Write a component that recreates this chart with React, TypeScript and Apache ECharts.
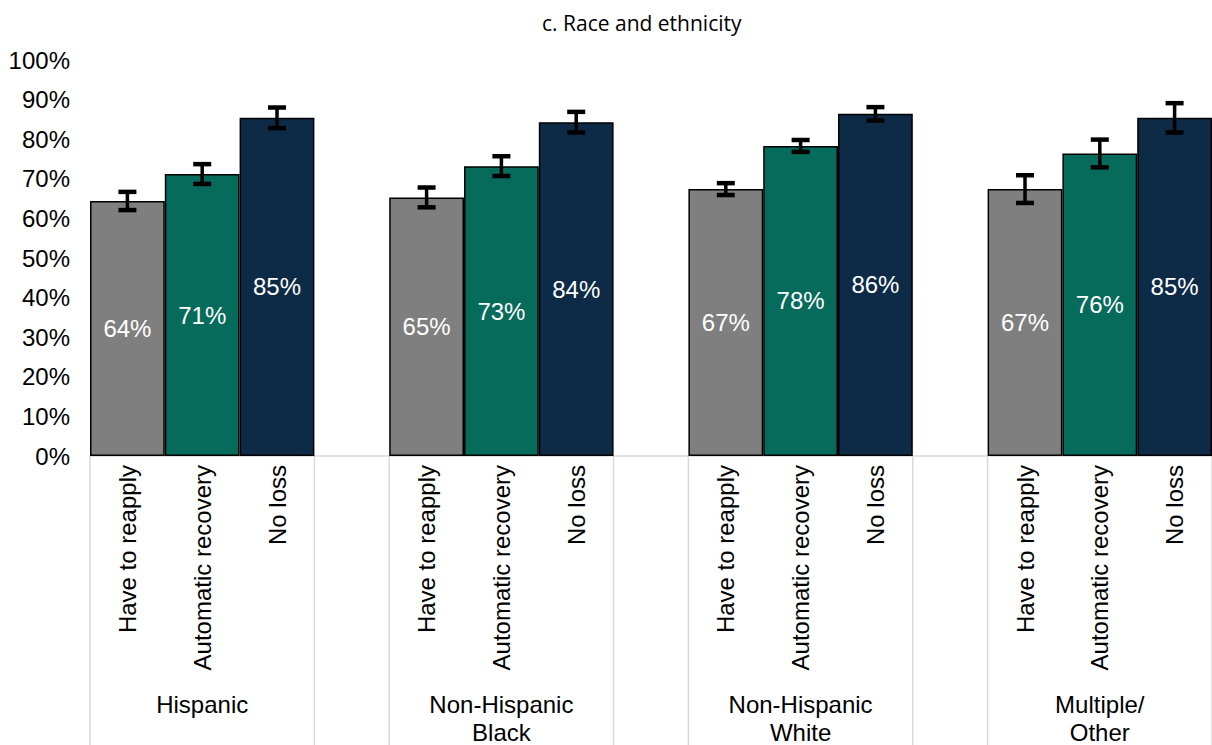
import React, { useEffect, useRef } from "react";
import * as echarts from "echarts";

// Groups along the x axis and the three outcomes shown in each group
const groups = ["Hispanic", "Non-Hispanic\nBlack", "Non-Hispanic\nWhite", "Multiple/\nOther"];
const outcomes = ["Have to reapply", "Automatic recovery", "No loss"];

// Share of respondents (%) per outcome, one value per group
const haveToReapply = [64.4, 65.3, 67.4, 67.4];
const automaticRecovery = [71.2, 73.2, 78.3, 76.4];
const noLoss = [85.4, 84.3, 86.4, 85.4];

// Half-width of the confidence interval (percentage points)
const haveToReapplyMoe = [2.3, 2.5, 1.5, 3.5];
const automaticRecoveryMoe = [2.5, 2.5, 1.5, 3.5];
const noLossMoe = [2.6, 2.6, 1.7, 3.7];

const outcomeColors = ["#7f7f7f", "#066b5a", "#0d2a47"];

const FONT = '"Liberation Sans", Arial, sans-serif';

type Slot = { label: string; value: number | null; moe: number; color: string; group: number };

function buildSlots(): Slot[] {
  const values = [haveToReapply, automaticRecovery, noLoss];
  const moes = [haveToReapplyMoe, automaticRecoveryMoe, noLossMoe];
  const slots: Slot[] = [];
  groups.forEach((_, g) => {
    outcomes.forEach((name, o) => {
      slots.push({ label: name, value: values[o][g], moe: moes[o][g], color: outcomeColors[o], group: g });
    });
    if (g < groups.length - 1) slots.push({ label: "", value: null, moe: 0, color: "transparent", group: g });
  });
  return slots;
}

export default function App() {
  const ref = useRef<HTMLDivElement>(null);

  useEffect(() => {
    if (!ref.current) return;
    const chart = echarts.init(ref.current, undefined, { renderer: "svg" });
    const slots = buildSlots();

    const barData = slots.map((s) =>
      s.value === null
        ? "-"
        : { value: s.value, itemStyle: { color: s.color } }
    );

    const errorData = slots
      .map((s, i) => (s.value === null ? null : [i, s.value - s.moe, s.value + s.moe]))
      .filter((d) => d !== null);

    // [first slot, last slot, group index]
    const groupData = groups.map((_, g) => [g * 4, g * 4 + 2, g]);

    chart.setOption({
      animation: false,
      title: {
        text: "c. Race and ethnicity",
        left: 537,
        top: 7,
        textStyle: { fontFamily: '"Open Sans", sans-serif', fontSize: 21, fontWeight: "normal", color: "#000" },
      },
      grid: { left: 90, right: 0, top: 60, bottom: 289 },
      xAxis: {
        type: "category",
        data: slots.map((s) => s.label),
        axisTick: { show: false },
        axisLine: { lineStyle: { color: "#d9d9d9", width: 1.5 } },
        axisLabel: { interval: 0, rotate: 90, margin: 9, fontSize: 24, fontFamily: FONT, color: "#000" },
      },
      yAxis: {
        type: "value",
        min: 0,
        max: 100,
        interval: 10,
        splitLine: { show: false },
        axisLine: { show: false },
        axisTick: { show: false },
        axisLabel: { formatter: "{value}%", margin: 20, fontSize: 24, fontFamily: FONT, color: "#000" },
      },
      series: [
        {
          type: "bar",
          data: barData,
          barWidth: "100%",
          itemStyle: { borderColor: "#000", borderWidth: 1.5 },
          label: {
            show: true,
            position: "inside",
            formatter: (p: any) => `${Math.round(p.value)}%`,
            color: "#fff",
            fontSize: 24,
            fontFamily: FONT,
          },
          z: 2,
        },
        {
          type: "custom",
          data: errorData,
          z: 3,
          renderItem: (params: any, api: any) => {
            const x = api.value(0);
            const top = api.coord([x, api.value(2)]);
            const bottom = api.coord([x, api.value(1)]);
            const half = 9;
            const style = { stroke: "#000", lineWidth: 4.5 };
            return {
              type: "group",
              children: [
                { type: "line", shape: { x1: top[0], y1: top[1], x2: bottom[0], y2: bottom[1] }, style: { stroke: "#000", lineWidth: 3.5 } },
                { type: "line", shape: { x1: top[0] - half, y1: top[1], x2: top[0] + half, y2: top[1] }, style },
                { type: "line", shape: { x1: bottom[0] - half, y1: bottom[1], x2: bottom[0] + half, y2: bottom[1] }, style },
              ],
            };
          },
        },
        {
          type: "custom",
          data: groupData,
          clip: false,
          silent: true,
          z: 1,
          renderItem: (params: any, api: any) => {
            const start = api.coord([api.value(0), 0]);
            const end = api.coord([api.value(1), 0]);
            const band = api.size([1, 0])[0];
            const x0 = start[0] - band / 2;
            const x1 = end[0] + band / 2;
            const y0 = start[1];
            const yEnd = api.getHeight();
            const lineStyle = { stroke: "#d9d9d9", lineWidth: 1.5 };
            return {
              type: "group",
              children: [
                { type: "line", shape: { x1: x0, y1: y0, x2: x0, y2: yEnd }, style: lineStyle },
                { type: "line", shape: { x1: x1, y1: y0, x2: x1, y2: yEnd }, style: lineStyle },
                {
                  type: "text",
                  style: {
                    text: groups[api.value(2)],
                    x: (x0 + x1) / 2,
                    y: y0 + 234,
                    align: "center",
                    verticalAlign: "top",
                    fontSize: 24,
                    fontFamily: FONT,
                    lineHeight: 28,
                    fill: "#000",
                  },
                },
              ],
            };
          },
        },
      ],
    });

    return () => chart.dispose();
  }, []);

  return (
    <div
      ref={ref}
      style={{ position: "fixed", left: 0, top: 0, width: 1212, height: 745, background: "#fff" }}
    />
  );
}
